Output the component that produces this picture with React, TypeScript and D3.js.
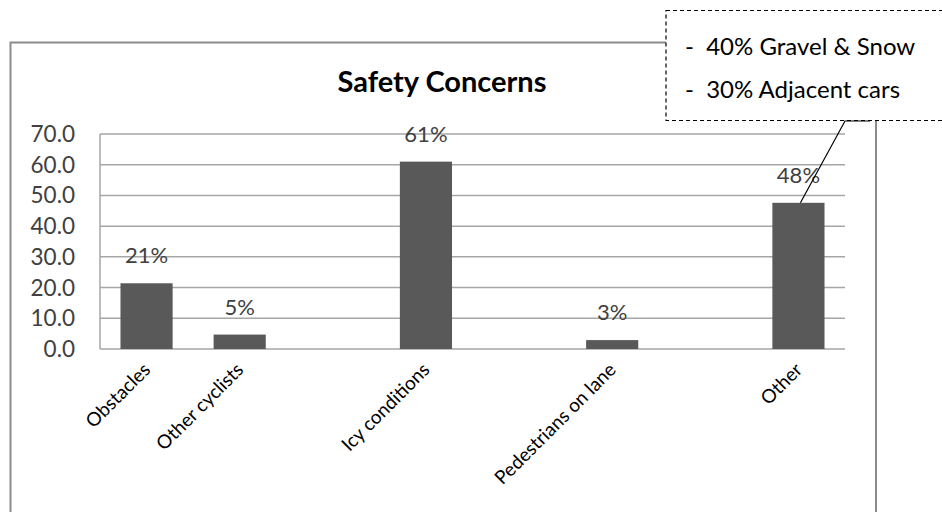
import React from "react";
import * as d3 from "d3";

const categories = ["Obstacles", "Other cyclists", "", "Icy conditions", "", "Pedestrians on lane", "", "Other"];
const values: (number | null)[] = [21.4, 4.7, null, 61, null, 2.9, null, 47.6];
const valueLabels = ["21%", "5%", "", "61%", "", "3%", "", "48%"];
const yTicks = [0, 10, 20, 30, 40, 50, 60, 70];
const calloutLines = ["-  40% Gravel & Snow", "-  30% Adjacent cars"];
const title = "Safety Concerns";

const W = 942;
const H = 512;
const FONT = "Lato, 'Open Sans', 'DejaVu Sans', sans-serif";

export default function App() {
  const x = d3.scaleBand<number>().domain(d3.range(categories.length)).range([100, 845]).paddingInner(0.44).paddingOuter(0.22);
  const y = d3.scaleLinear().domain([0, 70]).range([349, 134]);
  const bw = x.bandwidth();
  const otherIdx = categories.length - 1;
  const otherTop = y(values[otherIdx] as number);
  const otherCx = (x(otherIdx) as number) + bw / 2;

  return (
    <svg width={W} height={H} style={{ position: "absolute", left: 0, top: 0, background: "#fff" }}>
      <rect x={0} y={0} width={W} height={H} fill="#fff" />
      {/* outer frame */}
      <path d={`M10.5,${H + 5} L10.5,42.5 L700,42.5`} fill="none" stroke="#8c8c8c" strokeWidth={2} />
      <line x1={876} x2={876} y1={115} y2={H + 5} stroke="#8c8c8c" strokeWidth={2} />
      {/* title */}
      <text x={442} y={92} textAnchor="middle" fontFamily={FONT} fontWeight="bold" fontSize={29} fill="#000">
        {title}
      </text>
      {/* gridlines */}
      {yTicks.map((t) => (
        <line key={t} x1={100} x2={845} y1={y(t)} y2={y(t)} stroke="#a6a6a6" strokeWidth={1.5} />
      ))}
      <line x1={100} x2={100} y1={y(70)} y2={y(0)} stroke="#a6a6a6" strokeWidth={1.5} />
      {/* y tick labels */}
      {yTicks.map((t) => (
        <text key={t} x={75} y={y(t) + 8} textAnchor="end" fontFamily={FONT} fontSize={22.5} fill="#404040">
          {t.toFixed(1)}
        </text>
      ))}
      {/* bars */}
      {values.map((v, i) =>
        v == null ? null : (
          <rect key={i} x={x(i)} y={y(v)} width={bw} height={y(0) - y(v)} fill="#595959" />
        )
      )}
      {/* value labels */}
      {values.map((v, i) =>
        v == null ? null : (
          <text key={i} x={(x(i) as number) + bw / 2} y={y(v) - 20} textAnchor="middle" fontFamily={FONT} fontSize={22} fill="#404040">
            {valueLabels[i]}
          </text>
        )
      )}
      {/* category labels */}
      {categories.map((c, i) =>
        c === "" ? null : (
          <text
            key={i}
            transform={`translate(${(x(i) as number) + bw / 2 + 5},${371}) rotate(-45)`}
            textAnchor="end"
            fontFamily={FONT}
            fontSize={19}
            fill="#000"
          >
            {c}
          </text>
        )
      )}
      {/* callout */}
      <rect x={666} y={10.5} width={300} height={110} fill="#fff" stroke="#000" strokeWidth={1.2} strokeDasharray="4,3" />
      {calloutLines.map((l, i) => (
        <text key={i} x={685} y={55 + i * 43} fontFamily={FONT} fontSize={24} fill="#000" xmlSpace="preserve">
          {l}
        </text>
      ))}
      <path d={`M870,121 L845,121 L${otherCx + 2},${otherTop}`} fill="none" stroke="#000" strokeWidth={1.2} />
    </svg>
  );
}
